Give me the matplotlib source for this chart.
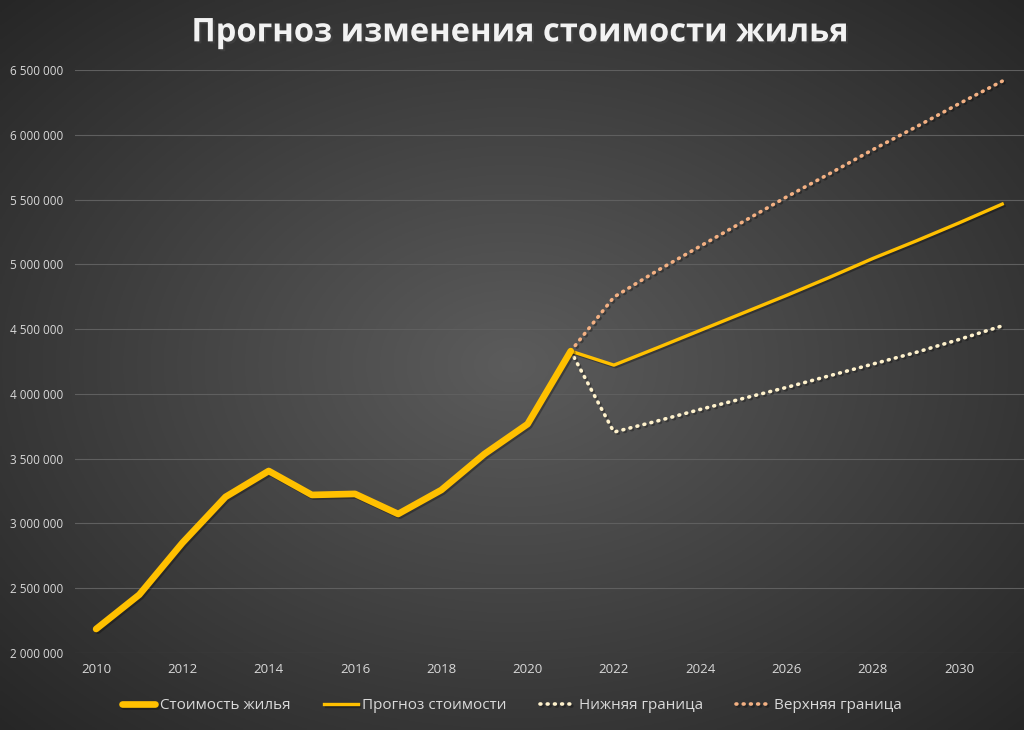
import numpy as np
import matplotlib.pyplot as plt
import matplotlib.patheffects as pe
from matplotlib.ticker import FuncFormatter, MultipleLocator

plt.rcParams['font.family'] = ['Open Sans', 'DejaVu Sans']

# данные
years_hist = [2010, 2011, 2012, 2013, 2014, 2015, 2016, 2017, 2018, 2019, 2020, 2021]
price_hist = [2185000, 2450000, 2850000, 3205000, 3405000, 3220000, 3228000,
              3073000, 3258000, 3536000, 3767000, 4330000]

years_fc = [2021, 2022, 2023, 2024, 2025, 2026, 2027, 2028, 2029, 2030, 2031]
price_fc = [4330000, 4222000, 4355000, 4490000, 4625000, 4760000, 4900000,
            5045000, 5180000, 5320000, 5465000]
lower_fc = [4330000, 3705000, 3790000, 3880000, 3965000, 4050000, 4140000,
            4230000, 4320000, 4420000, 4525000]
upper_fc = [4330000, 4747000, 4950000, 5140000, 5330000, 5520000, 5700000,
            5885000, 6060000, 6240000, 6414000]

x_ticks = [2010, 2012, 2014, 2016, 2018, 2020, 2022, 2024, 2026, 2028, 2030]

GOLD = '#ffc000'
LOWER_C = '#fff2cc'
UPPER_C = '#f4b183'
TXT = '#d9d9d9'
DOTS = (0, (0.25, 1.75))

fig = plt.figure(figsize=(10.24, 7.3), dpi=100)

# фон - радиальный градиент
bg = fig.add_axes([0, 0, 1, 1], zorder=-10)
yy, xx = np.mgrid[-1:1:300j, -1:1:400j]
r = np.sqrt(xx ** 2 + yy ** 2) / np.sqrt(2)
shade = 0.36 - 0.21 * r
bg.imshow(np.dstack([shade] * 3), aspect='auto', extent=[0, 1, 0, 1])
bg.axis('off')

ax = fig.add_axes([0.0728, 0.1055, 0.927, 0.7986])
ax.patch.set_alpha(0)
for s in ax.spines.values():
    s.set_visible(False)

shadow = [pe.SimpleLineShadow(offset=(1.2, -1.2), alpha=0.3), pe.Normal()]

ax.plot(years_hist, price_hist, color=GOLD, lw=4.8, solid_capstyle='round',
        solid_joinstyle='round', label='Стоимость жилья', path_effects=shadow, zorder=5)
ax.plot(years_fc, price_fc, color=GOLD, lw=2.4, solid_joinstyle='round',
        label='Прогноз стоимости', path_effects=shadow, zorder=4)
ax.plot(years_fc, lower_fc, color=LOWER_C, lw=2.6, linestyle=DOTS,
        dash_capstyle='round', label='Нижняя граница', path_effects=shadow, zorder=3)
ax.plot(years_fc, upper_fc, color=UPPER_C, lw=2.6, linestyle=DOTS,
        dash_capstyle='round', label='Верхняя граница', path_effects=shadow, zorder=3)

ax.set_xlim(2009.5, 2031.5)
ax.set_ylim(2000000, 6500000)
ax.yaxis.set_major_locator(MultipleLocator(500000))
ax.yaxis.set_major_formatter(FuncFormatter(lambda v, _: f'{int(v):,}'.replace(',', ' ')))
ax.set_xticks(x_ticks)
ax.grid(axis='y', color='#5f5f5f', lw=0.8)
ax.tick_params(axis='both', length=0, colors=TXT, labelsize=8.5)
ax.tick_params(axis='x', labelsize=9.5, pad=7)
ax.tick_params(axis='y', pad=8)

fig.text(0.507, 0.955, 'Прогноз изменения стоимости жилья', ha='center', va='center',
         color='#f2f2f2', fontsize=23.5, fontweight='bold',
         path_effects=[pe.withSimplePatchShadow(offset=(1.5, -1.5), alpha=0.5)])

leg = fig.legend(loc='center', bbox_to_anchor=(0.5, 0.033), ncol=4, frameon=False,
                 fontsize=11, labelcolor=TXT, handlelength=2.2, columnspacing=2.2,
                 handletextpad=0.3)

fig.savefig('out.png', dpi=100)
